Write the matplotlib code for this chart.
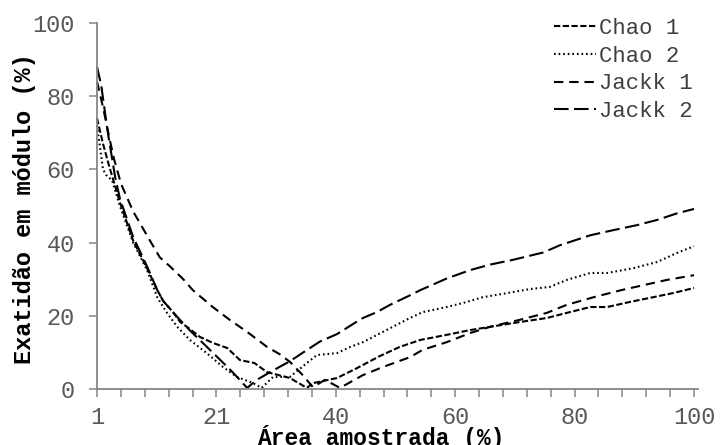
import matplotlib
matplotlib.use("Agg")
import matplotlib.pyplot as plt
import numpy as np

# ---------------- data ----------------
chao1_x = [1, 2, 3, 4.8, 7, 9.3, 11, 12, 13.6, 14.8, 15.9, 18.1, 20.2, 22.6, 24.7, 27.1, 29.2, 33, 35.8, 36.8,
           40.8, 44.1, 47.9, 51.2, 54.6, 59, 62.9, 66.2, 71.1, 75.6, 78.9, 82.8, 85.6, 89.4, 92.7, 96.5, 100]
chao1_y = [74, 67, 61, 51, 40.5, 33, 27, 24, 21, 18.3, 17, 14.2, 12.6, 11.2, 7.9, 7.1, 4.6, 3, 0.3, 1.6,
           3, 5.7, 9, 11.5, 13.4, 14.8, 16.1, 17, 18.3, 19.4, 20.8, 22.4, 22.4, 23.8, 24.9, 26.2, 27.6]

chao2_x = [1, 1.5, 2, 2.5, 3.5, 4.8, 7, 9.3, 11, 12.6, 14.3, 16.4, 19.2, 21.9, 24.2, 26.9, 28.3, 30.2, 33, 35.8,
           37.5, 40.8, 43, 45.1, 48.4, 52.9, 55, 59, 61.7, 65, 69, 72.8, 76.1, 78.9, 82.8, 85.6, 89.9, 93.9, 97.2, 100]
chao2_y = [72, 66, 60, 58.5, 57, 50, 40, 32.5, 25, 20.8, 17, 13.4, 9.8, 6, 3.3, 1.6, 0.3, 3.3, 3.3, 7.1,
           9.3, 9.8, 11.5, 12.8, 15.6, 19.4, 21, 22.4, 23.5, 25.1, 26.2, 27.3, 27.9, 29.8, 31.7, 31.7, 33, 34.7, 37.2, 39]

jackk1_x = [1, 2, 3, 3.8, 5, 7, 9.8, 11.4, 13.1, 15.3, 16.9, 20.2, 23, 25.9, 29.2, 31.3, 33, 35, 36.8, 38.8,
            41.3, 45.1, 48.4, 52.9, 55, 59, 62.9, 66.2, 71.1, 75.6, 78.9, 83.4, 87.9, 91.7, 95.5, 100]
jackk1_y = [84, 77, 69, 63, 56, 48.5, 40.5, 36, 33.5, 30, 27, 22.4, 18.9, 15.6, 11.5, 9.5, 7.4, 4, 0.5, 2.5,
            0.3, 3.8, 6, 8.7, 10.7, 12.8, 15.3, 17, 18.9, 20.8, 23, 25.1, 27, 28.4, 29.8, 31.1]

jackk2_x = [1, 1.7, 2.2, 2.8, 3.2, 4, 4.8, 7, 9.3, 11, 12, 14.3, 16.4, 18.6, 21.4, 23.6, 25.9, 27.5, 29.7, 33,
            35.2, 38, 40.8, 43.5, 45.1, 47.4, 49.6, 52.9, 54.6, 59, 62.9, 66.2, 70, 75, 77.8, 82.8, 86.6, 90.6,
            93.9, 97.2, 100]
jackk2_y = [88, 83, 77, 70, 66, 58, 52, 41.5, 33.5, 27, 24, 19.7, 16, 12.5, 8, 4.4, 0.3, 2.5, 4.6, 7.6,
            10, 13, 15, 17.8, 19.4, 21, 23, 25.6, 27, 30.2, 32.5, 34, 35.3, 37.3, 39.3, 42, 43.4, 44.8,
            46.2, 48, 49.2]

series_labels = ["Chao 1", "Chao 2", "Jackk 1", "Jackk 2"]
x_tick_labels = ["1", "21", "40", "60", "80", "100"]
y_ticks = [0, 20, 40, 60, 80, 100]
x_label = "Área amostrada (%)"
y_label = "Exatidão em módulo (%)"

# ---------------- figure ----------------
plt.rcParams['font.family'] = ['Liberation Mono', 'DejaVu Sans Mono']
fig = plt.figure(figsize=(7.2, 4.45), dpi=100)
ax = fig.add_axes([97 / 720, 1 - 389 / 445, (698 - 97) / 720, (389 - 23) / 445])

lw = 1.5
styles = [(0, (3, 1.2)), (0, (0.8, 1.4)), (0, (4.5, 2.8)), (0, (7, 2.6))]
data = [(chao1_x, chao1_y), (chao2_x, chao2_y), (jackk1_x, jackk1_y), (jackk2_x, jackk2_y)]
for (xs, ys), ls, lab in zip(data, styles, series_labels):
    ax.plot(xs, ys, color='black', lw=lw, linestyle=ls, label=lab, clip_on=False,
            dash_capstyle='butt')

ax.set_xlim(1, 100.66)
ax.set_ylim(0, 100)

gray = '#868686'
for s in ['top', 'right']:
    ax.spines[s].set_visible(False)
for s in ['left', 'bottom']:
    ax.spines[s].set_color(gray)
    ax.spines[s].set_linewidth(1.3)

minor_pos = np.linspace(1, 100, 26)
ax.set_xticks(minor_pos)
lbls = [''] * 26
for i, t in enumerate(x_tick_labels):
    lbls[i * 5] = t
ax.set_xticklabels(lbls)
ax.set_yticks(y_ticks)
ax.set_yticklabels([str(v) for v in y_ticks])
ax.tick_params(axis='x', direction='out', length=6, width=1.1, color=gray,
               labelsize=17, labelcolor='#595959', pad=6)
ax.tick_params(axis='y', direction='out', length=6, width=1.1, color=gray,
               labelsize=17, labelcolor='#595959', pad=10)

fig.text(381 / 720, 1 - 438 / 445, x_label, ha='center', va='center',
         fontsize=16.5, fontweight='bold', color='black')
fig.text(25 / 720, 1 - 209 / 445, y_label, ha='center', va='center', rotation=90,
         fontsize=17, fontweight='bold', color='black')

leg = ax.legend(loc='upper left', bbox_to_anchor=(554 / 720, 1 - 18 / 445),
                bbox_transform=fig.transFigure, frameon=False, fontsize=16,
                handlelength=1.9, handletextpad=0.12, labelspacing=0.3,
                borderpad=0, borderaxespad=0)
for t in leg.get_texts():
    t.set_color('#404040')

fig.savefig('out.png', dpi=100)
